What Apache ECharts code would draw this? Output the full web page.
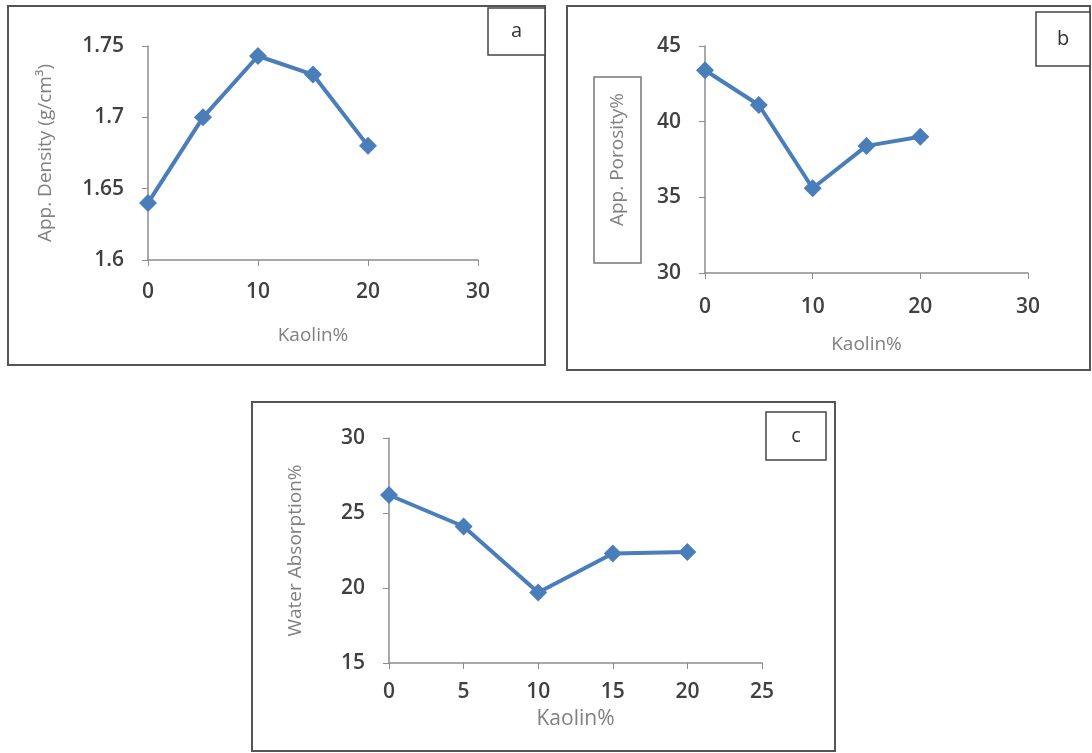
<!DOCTYPE html>
<html>
<head>
<meta charset="utf-8">
<script src="https://cdn.jsdelivr.net/npm/echarts@6/dist/echarts.min.js"></script>
<style>
  html, body { margin: 0; padding: 0; background: #fff; }
  #chart { width: 1092px; height: 753px; }
</style>
</head>
<body>
<div id="chart"></div>
<script>
// Kaolin content (%) and measured properties
const kaolin = [0, 5, 10, 15, 20];
const density = [1.64, 1.70, 1.743, 1.73, 1.68];       // g/cm³
const porosity = [43.4, 41.1, 35.6, 38.4, 39.0];       // %
const absorption = [26.2, 24.1, 19.7, 22.3, 22.4];     // %

const panelLetters = ['a', 'b', 'c'];
const xTitle = 'Kaolin%';
const yTitles = ['App. Density (g/cm\u00B3)', 'App. Porosity%', 'Water Absorption%'];

const blue = '#4a7ebb';
const axisGrey = '#8c8c8c';
const family = 'Open Sans, Noto Sans, sans-serif';
const tickFont = { fontFamily: family, fontSize: 21, color: '#404040', fontWeight: 600 };
const titleFont = { fontFamily: family, fontSize: 19, color: '#808080' };

function pairs(ys) { return kaolin.map((k, i) => [k, ys[i]]); }

function xAxis(gridIndex, max, interval, labelMargin, nameGap, nameSize) {
  return {
    type: 'value', gridIndex, min: 0, max, interval,
    name: xTitle, nameLocation: 'middle', nameGap,
    nameTextStyle: Object.assign({}, titleFont, nameSize ? { fontSize: nameSize } : {}),
    axisLine: { show: true, lineStyle: { color: axisGrey, width: 1.5 } },
    axisTick: { show: true, inside: false, length: 6, lineStyle: { color: axisGrey } },
    axisLabel: Object.assign({ margin: labelMargin }, tickFont),
    splitLine: { show: false }
  };
}
function yAxis(gridIndex, min, max, interval, name, nameGap, fmt) {
  return {
    type: 'value', gridIndex, min, max, interval,
    name, nameLocation: 'middle', nameGap, nameTextStyle: titleFont,
    axisLine: { show: true, lineStyle: { color: axisGrey, width: 1.5 } },
    axisTick: { show: true, inside: false, length: 6, lineStyle: { color: axisGrey } },
    axisLabel: Object.assign({ margin: 24, formatter: fmt }, tickFont),
    splitLine: { show: false }
  };
}
function line(i, ys) {
  return {
    type: 'line', xAxisIndex: i, yAxisIndex: i, data: pairs(ys),
    symbol: 'diamond', symbolSize: 18,
    lineStyle: { color: blue, width: 4 },
    itemStyle: { color: blue },
    silent: true, animation: false
  };
}

// Panel frames, letter boxes and the boxed y title of panel b
const frame = (x, y, w, h) => ({ type: 'rect', shape: { x, y, width: w, height: h },
  style: { fill: 'none', stroke: '#555', lineWidth: 2 }, z: 10 });
const letterBox = (x, y, w, h, t) => ([
  { type: 'rect', shape: { x, y, width: w, height: h }, style: { fill: '#fff', stroke: '#444', lineWidth: 1.5 }, z: 11 },
  { type: 'text', x: x + w / 2, y: y + h / 2, style: { text: t, fill: '#333', fontSize: 20,
    fontFamily: family, align: 'center', verticalAlign: 'middle' }, z: 12 }
]);

const chart = echarts.init(document.getElementById('chart'), null, { renderer: 'canvas' });
chart.setOption({
  animation: false,
  backgroundColor: '#fff',
  grid: [
    { left: 148, top: 46, width: 330, height: 214 },
    { left: 705, top: 46, width: 323, height: 227 },
    { left: 389, top: 438, width: 373, height: 225 }
  ],
  xAxis: [
    xAxis(0, 30, 10, 22, 66),
    xAxis(1, 30, 10, 24, 62),
    xAxis(2, 25, 5, 19, 46, 21)
  ],
  yAxis: [
    yAxis(0, 1.6, 1.75, 0.05, yTitles[0], 93, v => String(+v.toFixed(2))),
    yAxis(1, 30, 45, 5, yTitles[1], 78),
    yAxis(2, 15, 30, 5, yTitles[2], 84)
  ],
  series: [line(0, density), line(1, porosity), line(2, absorption)],
  graphic: [
    frame(8, 6, 537, 359),
    frame(567, 6, 523, 364),
    frame(252, 402, 583, 349),
    { type: 'rect', shape: { x: 594, y: 77, width: 47, height: 186 },
      style: { fill: 'none', stroke: '#777', lineWidth: 1.5 }, z: 10 },
    ...letterBox(488, 8, 57, 47, panelLetters[0]),
    ...letterBox(1036, 12, 54, 54, panelLetters[1]),
    ...letterBox(766, 412, 60, 48, panelLetters[2])
  ]
});
</script>
</body>
</html>
